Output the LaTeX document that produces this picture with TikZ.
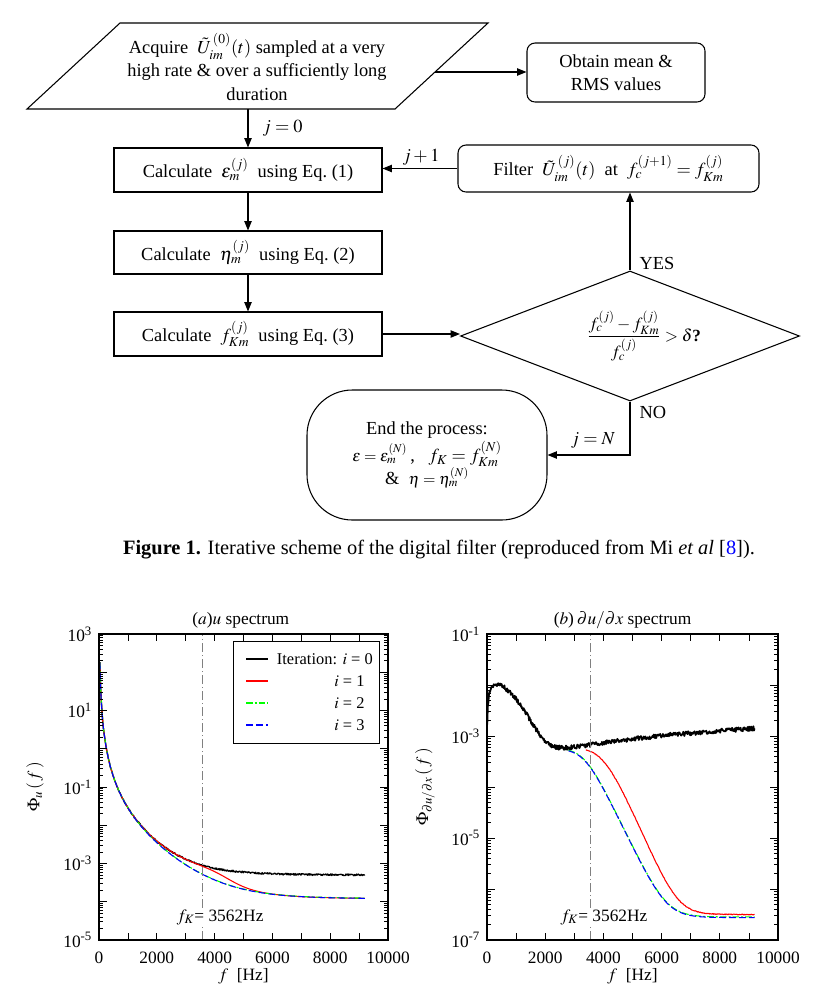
\documentclass[tikz,border=0pt]{standalone}
\usepackage{amsmath}
\usepackage{mathptmx}
\usepackage{fontspec}
\setmainfont{Liberation Serif}
\usetikzlibrary{arrows.meta,shapes.geometric}
\newcommand\flowfont{\fontsize{13.8}{17.5}\selectfont}
\newcommand\condfont{\fontsize{12.8}{15}\selectfont}
\newcommand\tickfont{\fontsize{13}{15}\selectfont}
\newcommand\legfont{\fontsize{12.3}{14}\selectfont}
\begin{document}
\begin{tikzpicture}[x=0.75pt,y=-0.75pt,
  declare function={
    ubase(\fr)=-1.34-2.361*log10(\fr)-0.2095*\fr;
    pw(\yy)=exp(max(-9,\yy*2.302585));
    lse(\ua,\ub)=max(\ua,\ub)+log10(1+pw(-abs(\ua-\ub)));
    sig(\fr)=1/(1+exp(max(-9,min(8,(\fr-4.2)/0.35))));
    softp(\uu)=max(\uu,0)+ln(1+exp(max(-9,-abs(\uu))));
    gR(\fr)=-3.32+0.19*sqrt(0.5*softp((\fr-3.1)/0.5));
    gP(\fr)=-1.857+log10(\fr/(\fr+0.1))-0.42*\fr*\fr;
    blk(\fr)=lse(gP(\fr),gR(\fr));
  },
  box/.style={draw, line width=0.8pt, minimum width=201pt, inner sep=2pt, font=\flowfont},
  rbox/.style={box, rounded corners=6pt},
  arr/.style={line width=0.8pt, -{Triangle[length=7pt,width=5.5pt]}},
  lbl/.style={font=\flowfont, inner sep=1pt},
  ticklab/.style={font=\tickfont, inner sep=0pt},
  frame/.style={line width=0.8pt},
  tk/.style={line width=0.5pt},
  gdash/.style={dash pattern=on 5pt off 1.5pt on 1.5pt off 1.5pt},
  bdash/.style={dash pattern=on 5pt off 2.5pt},
  ddot/.style={gray, line width=0.5pt, dash pattern=on 7pt off 2pt on 1pt off 2pt},
  curve/.style={line width=0.8pt, line join=round}
]
\fill[white] (0,0) rectangle (820,1004);
\useasboundingbox (0,0) rectangle (820,1004);

%% ---------------- flowchart ----------------
\draw[line width=0.8pt] (120,23) -- (488,23) -- (395,109) -- (27,109) -- cycle;
\node[lbl, align=center] (acq) at (257,67) {Acquire \ $\tilde{U}^{\,(0)}_{im}(t)$ sampled at a very\\high rate \& over a sufficiently long\\duration};
\coordinate (acqS) at (248,109);
\coordinate (acqE) at (435,72);

\node[rbox, minimum width=133.5pt, minimum height=44.25pt, align=center] (obt) at (616,72.5) {Obtain mean \&\\RMS values};
\draw[arr] (acqE) -- (acqE -| obt.west);

\node[box, minimum height=33pt] (eps) at (248,170) {Calculate \ $\epsilon_m^{(j)}$ \ using Eq.~(1)};
\draw[arr] (acqS) -- (acqS |- eps.north);
\node[lbl, anchor=west] (j0) at (261,128) {$j = 0$};

\node[box, minimum height=32.25pt] (eta) at (248,252.5) {Calculate \ $\eta_m^{(j)}$ \ using Eq.~(2)};
\node[box, minimum height=33pt] (fk) at (248,334) {Calculate \ $f_{Km}^{(j)}$ \ using Eq.~(3)};
\draw[arr] (eps.south) -- (eta.north);
\draw[arr] (eta.south) -- (fk.north);

\node[rbox, minimum width=225.75pt, minimum height=35.25pt] (flt) at (608.5,168.5) {Filter \ $\tilde{U}^{\,(j)}_{im}(t)$ \ at \ $f_c^{(j+1)} = f_{Km}^{(j)}$};
\draw[arr] (flt.west) -- (flt.west -| eps.east);
\node[lbl, anchor=south] (jp1) at (421,167) {$j+1$};

\node[diamond, draw, line width=0.8pt, minimum width=254.25pt, minimum height=97.5pt, inner sep=0pt] (dia) at (630,336) {};
\node[font=\condfont, inner sep=1pt] (cond) at (644,336) {$\dfrac{f_c^{(j)} - f_{Km}^{(j)}}{f_c^{(j)}} > \delta$\textbf{?}};
\draw[arr] (fk.east) -- (fk.east -| dia.west);
\draw[arr] (dia.north) -- (dia.north |- flt.south);
\node[lbl, anchor=west] (yes) at (638,263) {YES};
\node[lbl, anchor=west] (no) at (638,412) {NO};

\node[draw, line width=0.8pt, rounded corners=34pt, minimum width=180pt, minimum height=97.5pt, align=center, font=\flowfont] (endp) at (427,455) {End the process:\\[1pt] {\large $\epsilon = \epsilon_m^{(N)}$}\,, \ \ $f_K = f_{Km}^{(N)}$\\ \& \ {\large $\eta = \eta_m^{(N)}$}};
\draw[arr] (dia.south) |- (endp.east);
\node[lbl, anchor=south] (jN) at (593,450) {$j = N$};

\node[font=\fontsize{15.3}{17}\selectfont] (cap) at (439,550) {\textbf{Figure 1.} Iterative scheme of the digital filter (reproduced from Mi \textit{et al} [\textcolor{blue}{8}]).};

%% ---------------- plot (a) ----------------
\begin{scope}[shift={(74.25pt,-705pt)}, x=21.675pt, y=28.6875pt]
  \begin{scope}
    \clip (0,0) rectangle (10,8);
    \draw[curve, black, line width=1pt] plot[domain=0.03:9.2, samples=450] (\x,{lse(ubase(\x),-3.3)+5+0.022*rand});
    \draw[curve, red] plot[domain=0.03:9.2, samples=300] (\x,{lse(ubase(\x),log10(1.2+3.8*sig(\x))-4)+5});
    \draw[curve, green, gdash] plot[domain=0.03:9.2, samples=300] (\x,{lse(ubase(\x),-3.92)+5.006});
    \draw[curve, blue, bdash] plot[domain=0.03:9.2, samples=300] (\x,{lse(ubase(\x),-3.92)+5});
    \draw[ddot] (3.562,0) -- (3.562,8);
  \end{scope}
  \draw[frame] (0,0) rectangle (10,8);
  \foreach \k in {1,...,9} {\draw[tk] (\k,0) -- ++(0,5pt); \draw[tk] (\k,8) -- ++(0,-5pt);}
  \foreach \d in {1,...,7} {\draw[tk] (0,\d) -- ++(6pt,0); \draw[tk] (10,\d) -- ++(-6pt,0);}
  \foreach \d in {0,...,7} {\foreach \m in {2,...,9} {\draw[tk] (0,{\d+log10(\m)}) -- ++(3pt,0); \draw[tk] (10,{\d+log10(\m)}) -- ++(-3pt,0);}}
  \foreach \k/\t in {0/0,2/2000,4/4000,6/6000,8/8000,10/10000} {\node[ticklab] (ax\k) at ([yshift=-13.5pt]\k,0) {\t};}
  \foreach \d/\e in {0/-5,2/-3,4/-1,6/1,8/3} {\node[ticklab, anchor=east] (ay\d) at ([xshift=-5pt]0,\d) {10\textsuperscript{\e}};}
  \node[ticklab] (ta) at ([yshift=10.5pt, xshift=-2pt]5,8) {($a$)$u$ spectrum};
  \node[ticklab] (xla) at ([yshift=-27.5pt]5,0) {$f$ \ [Hz]};
  \node[ticklab, rotate=90] (yla) at ([xshift=-48pt]0,4) {$\Phi_u\,(\,f\,)$};
  \node[ticklab, fill=white, inner sep=1pt] (fka) at (4.19,0.6) {$f_K$= 3562Hz};
\end{scope}
\node[draw, line width=0.6pt, minimum width=109.5pt, minimum height=76.5pt, inner sep=0pt] (leg) at (306,692) {};
\draw[curve, black, line width=1pt] (246,659) -- (268,659);
\draw[curve, red] (246,681) -- (268,681);
\draw[curve, green, gdash] (246,703) -- (268,703);
\draw[curve, blue, bdash] (246,725) -- (268,725);
\node[font=\legfont, anchor=east, inner sep=0pt] (l0) at (373,659) {Iteration: $i$ = 0};
\node[font=\legfont, anchor=west, inner sep=0pt] (l1) at (334,681) {$i$ = 1};
\node[font=\legfont, anchor=west, inner sep=0pt] (l2) at (334,703) {$i$ = 2};
\node[font=\legfont, anchor=west, inner sep=0pt] (l3) at (334,725) {$i$ = 3};

%% ---------------- plot (b) ----------------
\begin{scope}[shift={(365.25pt,-705pt)}, x=21.825pt, y=38.25pt]
  \begin{scope}
    \clip (0,0) rectangle (10,6);
    \draw[curve, black, line width=1.3pt] plot[domain=0.01:9.2, samples=500] (\x,{blk(\x)+7+0.045*rand});
    \draw[curve, red] plot[domain=3.4:9.2, samples=300] (\x,{lse(blk(\x)-0.4725*softp((\x-3.95)/0.35),-6.5)+7+0.008*rand});
    \draw[curve, green, gdash] plot[domain=2.8:9.2, samples=300] (\x,{lse(blk(\x)-0.375*softp((\x-3.3)/0.3),-6.56)+7.012});
    \draw[curve, blue, bdash] plot[domain=2.8:9.2, samples=300] (\x,{lse(blk(\x)-0.375*softp((\x-3.3)/0.3),-6.56)+7});
    \draw[ddot] (3.562,0) -- (3.562,6);
  \end{scope}
  \draw[frame] (0,0) rectangle (10,6);
  \foreach \k in {1,...,9} {\draw[tk] (\k,0) -- ++(0,5pt); \draw[tk] (\k,6) -- ++(0,-5pt);}
  \foreach \d in {1,...,5} {\draw[tk] (0,\d) -- ++(6pt,0); \draw[tk] (10,\d) -- ++(-6pt,0);}
  \foreach \d in {0,...,5} {\foreach \m in {2,...,9} {\draw[tk] (0,{\d+log10(\m)}) -- ++(3pt,0); \draw[tk] (10,{\d+log10(\m)}) -- ++(-3pt,0);}}
  \foreach \k/\t in {0/0,2/2000,4/4000,6/6000,8/8000,10/10000} {\node[ticklab] (bx\k) at ([yshift=-13.5pt]\k,0) {\t};}
  \foreach \d/\e in {0/-7,2/-5,4/-3,6/-1} {\node[ticklab, anchor=east] (by\d) at ([xshift=-5pt]0,\d) {10\textsuperscript{\e}};}
  \node[ticklab] (tb) at ([yshift=10.5pt, xshift=-7.5pt]5,6) {($b$)\,$\partial u/\partial x$ spectrum};
  \node[ticklab] (xlb) at ([yshift=-27.5pt]5,0) {$f$ \ [Hz]};
  \node[ticklab, rotate=90] (ylb) at ([xshift=-46.5pt]0,3) {$\Phi_{\partial u/\partial x}\,(\,f\,)$};
  \node[ticklab, fill=white, inner sep=1pt] (fkb) at (4.02,0.45) {$f_K$= 3562Hz};
\end{scope}
\end{tikzpicture}
\end{document}
